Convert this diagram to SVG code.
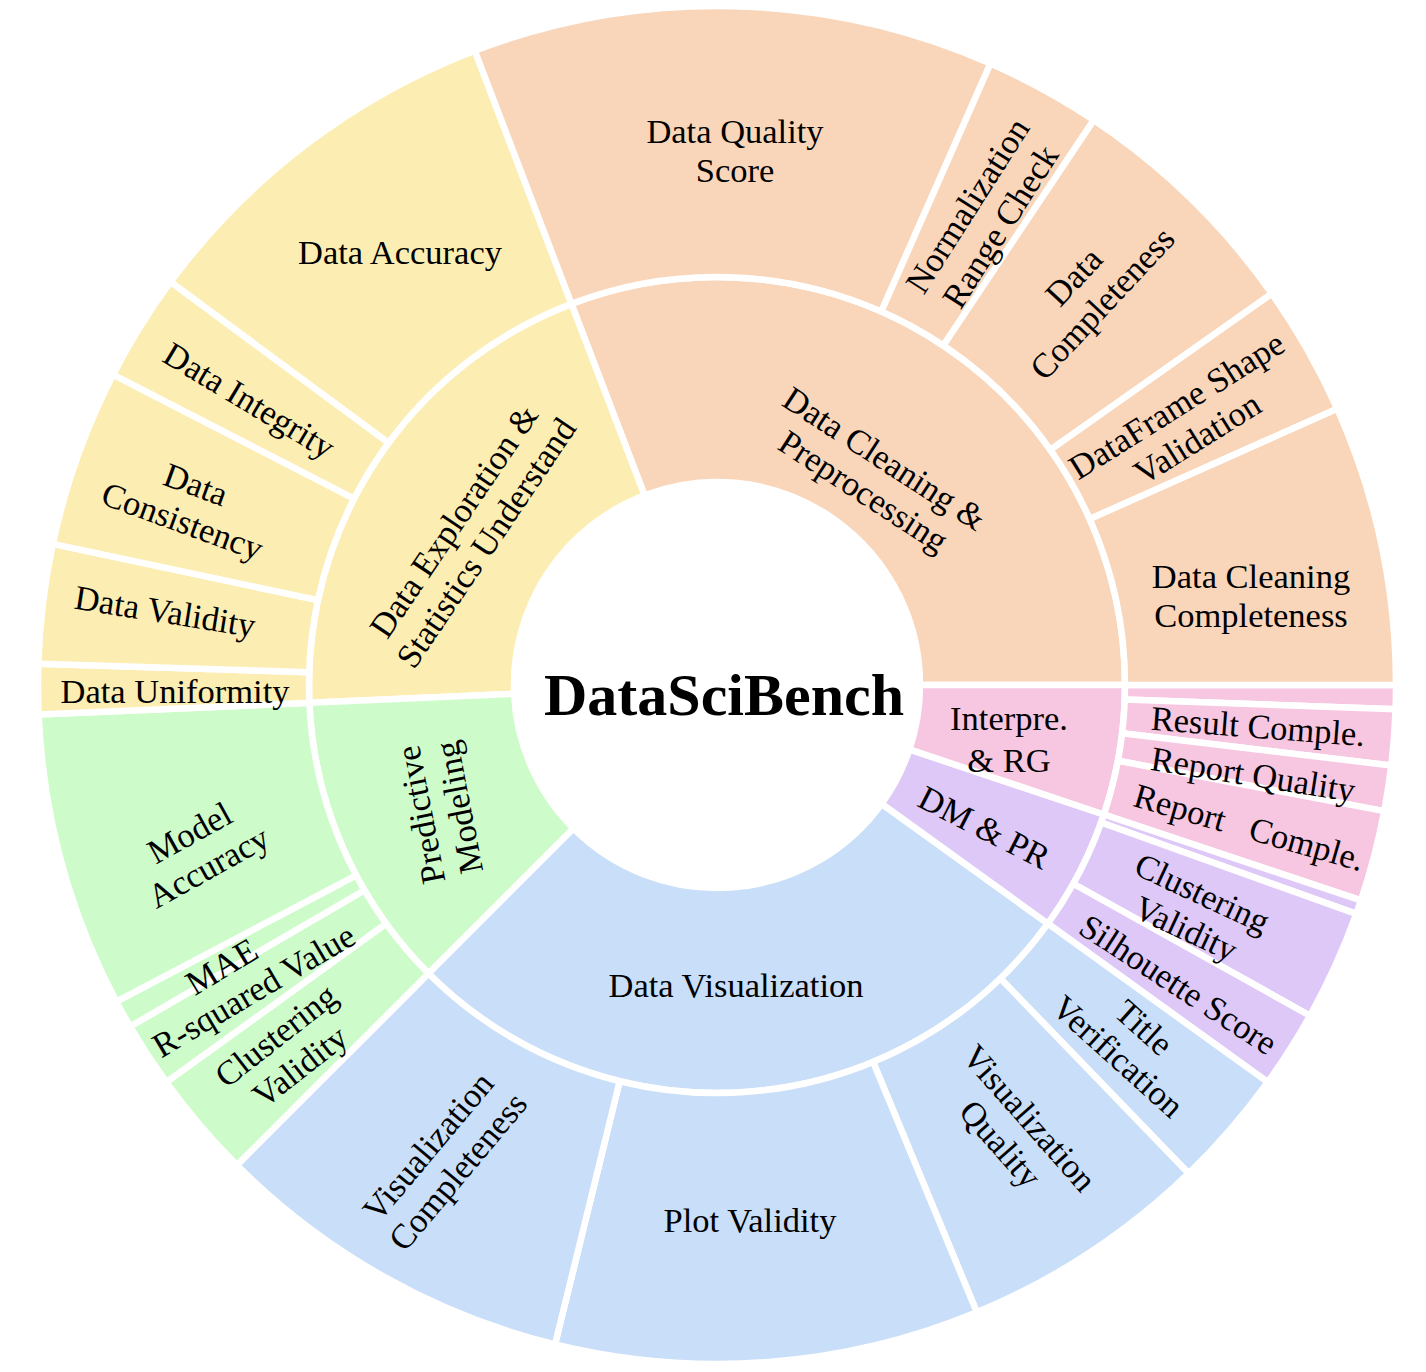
<svg xmlns="http://www.w3.org/2000/svg" width="1426" height="1372" viewBox="0 0 1426 1372">
<style>
.w{stroke:#fff;stroke-width:6.5;stroke-linejoin:round}
.c1{fill:#F9D6BA}.c2{fill:#FCEDB2}.c3{fill:#CEFBCA}.c4{fill:#C9DEF8}.c5{fill:#DDC8F8}.c6{fill:#F7C6E0}
text{font-family:"Liberation Serif","Times New Roman",serif;font-size:34.5px;fill:#000;text-anchor:middle}
.root{font-size:60px;font-weight:bold}
</style>
<rect width="1426" height="1372" fill="#fff"/>
<g id="sectors">
<g id="data-cleaning"><path class="w c1" d="M571.45,303.85 A408,408 0 0 1 1125,685 L920,685 A203,203 0 0 0 644.58,495.36 Z"/></g>
<g id="data-exploration"><path class="w c2" d="M309.39,702.80 A408,408 0 0 1 571.45,303.85 L644.58,495.36 A203,203 0 0 0 514.19,693.85 Z"/></g>
<g id="predictive-modeling"><path class="w c3" d="M428.50,973.50 A408,408 0 0 1 309.39,702.80 L514.19,693.85 A203,203 0 0 0 573.46,828.54 Z"/></g>
<g id="data-visualization"><path class="w c4" d="M1047.91,923.66 A408,408 0 0 1 428.50,973.50 L573.46,828.54 A203,203 0 0 0 881.65,803.75 Z"/></g>
<g id="dm-pr"><path class="w c5" d="M1103.91,814.46 A408,408 0 0 1 1047.91,923.66 L881.65,803.75 A203,203 0 0 0 909.51,749.41 Z"/></g>
<g id="interpre-rg"><path class="w c6" d="M1125,685 A408,408 0 0 1 1103.91,814.46 L909.51,749.41 A203,203 0 0 0 920,685 Z"/></g>
<g id="interpre-extra"><path class="w c6" d="M1396,685 A679,679 0 0 1 1395.57,709.29 L1124.74,699.60 A408,408 0 0 0 1125,685 Z"/></g>
<g id="result-comple"><path class="w c6" d="M1395.57,709.29 A679,679 0 0 1 1391.23,765.40 L1122.13,733.31 A408,408 0 0 0 1124.74,699.60 Z"/></g>
<g id="report-quality"><path class="w c6" d="M1391.23,765.40 A679,679 0 0 1 1384.19,811.07 L1117.90,760.75 A408,408 0 0 0 1122.13,733.31 Z"/></g>
<g id="report-comple"><path class="w c6" d="M1384.19,811.07 A679,679 0 0 1 1360.91,900.45 L1103.91,814.46 A408,408 0 0 0 1117.90,760.75 Z"/></g>
<g id="dm-extra"><path class="w c5" d="M1360.91,900.45 A679,679 0 0 1 1356.26,913.89 L1101.12,822.53 A408,408 0 0 0 1103.91,814.46 Z"/></g>
<g id="clustering-validity-dm"><path class="w c5" d="M1356.26,913.89 A679,679 0 0 1 1310.00,1015.73 L1073.32,883.73 A408,408 0 0 0 1101.12,822.53 Z"/></g>
<g id="silhouette-score"><path class="w c5" d="M1310.00,1015.73 A679,679 0 0 1 1267.71,1082.19 L1047.91,923.66 A408,408 0 0 0 1073.32,883.73 Z"/></g>
<g id="title-verification"><path class="w c4" d="M1267.71,1082.19 A679,679 0 0 1 1188.67,1173.43 L1000.42,978.49 A408,408 0 0 0 1047.91,923.66 Z"/></g>
<g id="visualization-quality"><path class="w c4" d="M1188.67,1173.43 A679,679 0 0 1 976.84,1312.31 L873.13,1061.94 A408,408 0 0 0 1000.42,978.49 Z"/></g>
<g id="plot-validity"><path class="w c4" d="M976.84,1312.31 A679,679 0 0 1 555.04,1344.40 L619.68,1081.22 A408,408 0 0 0 873.13,1061.94 Z"/></g>
<g id="visualization-completeness"><path class="w c4" d="M555.04,1344.40 A679,679 0 0 1 236.87,1165.13 L428.50,973.50 A408,408 0 0 0 619.68,1081.22 Z"/></g>
<g id="clustering-validity-pm"><path class="w c3" d="M236.87,1165.13 A679,679 0 0 1 166.29,1082.19 L386.09,923.66 A408,408 0 0 0 428.50,973.50 Z"/></g>
<g id="r-squared"><path class="w c3" d="M166.29,1082.19 A679,679 0 0 1 130.16,1026.55 L364.38,890.23 A408,408 0 0 0 386.09,923.66 Z"/></g>
<g id="mae"><path class="w c3" d="M130.16,1026.55 A679,679 0 0 1 116.37,1001.67 L356.09,875.28 A408,408 0 0 0 364.38,890.23 Z"/></g>
<g id="model-accuracy"><path class="w c3" d="M116.37,1001.67 A679,679 0 0 1 38.65,714.62 L309.39,702.80 A408,408 0 0 0 356.09,875.28 Z"/></g>
<g id="data-uniformity"><path class="w c2" d="M38.65,714.62 A679,679 0 0 1 38.33,663.67 L309.20,672.18 A408,408 0 0 0 309.39,702.80 Z"/></g>
<g id="data-validity"><path class="w c2" d="M38.33,663.67 A679,679 0 0 1 52.84,543.83 L317.91,600.17 A408,408 0 0 0 309.20,672.18 Z"/></g>
<g id="data-consistency"><path class="w c2" d="M52.84,543.83 A679,679 0 0 1 113.08,374.67 L354.12,498.53 A408,408 0 0 0 317.91,600.17 Z"/></g>
<g id="data-integrity"><path class="w c2" d="M113.08,374.67 A679,679 0 0 1 170.60,281.91 L388.67,442.79 A408,408 0 0 0 354.12,498.53 Z"/></g>
<g id="data-accuracy"><path class="w c2" d="M170.60,281.91 A679,679 0 0 1 474.77,50.68 L571.45,303.85 A408,408 0 0 0 388.67,442.79 Z"/></g>
<g id="data-quality-score"><path class="w c1" d="M474.77,50.68 A679,679 0 0 1 990.47,63.50 L881.32,311.55 A408,408 0 0 0 571.45,303.85 Z"/></g>
<g id="normalization-range-check"><path class="w c1" d="M990.47,63.50 A679,679 0 0 1 1093.74,120.11 L943.37,345.56 A408,408 0 0 0 881.32,311.55 Z"/></g>
<g id="data-completeness"><path class="w c1" d="M1093.74,120.11 A679,679 0 0 1 1271.84,293.60 L1050.39,449.82 A408,408 0 0 0 943.37,345.56 Z"/></g>
<g id="dataframe-shape-validation"><path class="w c1" d="M1271.84,293.60 A679,679 0 0 1 1337.30,408.82 L1089.73,519.05 A408,408 0 0 0 1050.39,449.82 Z"/></g>
<g id="data-cleaning-completeness"><path class="w c1" d="M1337.30,408.82 A679,679 0 0 1 1396,685 L1125,685 A408,408 0 0 0 1089.73,519.05 Z"/></g>
</g>
<g id="labels">
<g id="root"><text class="root" x="724" y="715">DataSciBench</text></g>
<text id="t-data-cleaning" transform="translate(874,475) rotate(33)"><tspan x="0" y="-8">Data Cleaning &amp;</tspan><tspan x="0" y="31">Preprocessing</tspan></text>
<text id="t-data-exploration" transform="translate(470,532) rotate(-56)"><tspan x="0" y="-8">Data Exploration &amp;</tspan><tspan x="0" y="31">Statistics Understand</tspan></text>
<text id="t-predictive-modeling" transform="translate(440,811) rotate(-101)"><tspan x="0" y="-8">Predictive</tspan><tspan x="0" y="31">Modeling</tspan></text>
<text id="t-data-visualization" x="736" y="997">Data Visualization</text>
<text id="t-dm-pr" transform="translate(984,828) rotate(27)" y="11">DM &amp; PR</text>
<text id="t-interpre-rg"><tspan x="1009" y="730">Interpre.</tspan><tspan x="1009" y="772">&amp; RG</tspan></text>
<text id="t-result-comple" transform="translate(1258,727) rotate(4.4)" y="11">Result Comple.</text>
<text id="t-report-quality" transform="translate(1253,775) rotate(9)" y="11">Report Quality</text>
<text id="t-report-comple" transform="translate(1249,828) rotate(16)" y="11" style="white-space:pre">Report   Comple.</text>
<text id="t-clustering-validity-dm" transform="translate(1194,911) rotate(25)"><tspan x="0" y="-8">Clustering</tspan><tspan x="0" y="31">Validity</tspan></text>
<text id="t-silhouette-score" transform="translate(1178,985) rotate(33)" y="11">Silhouette Score</text>
<text id="t-title-verification" transform="translate(1131,1042) rotate(42)"><tspan x="0" y="-8">Title</tspan><tspan x="0" y="31">Verification</tspan></text>
<text id="t-visualization-quality" transform="translate(1015,1131) rotate(48.5)"><tspan x="0" y="-8">Visualization</tspan><tspan x="0" y="31">Quality</tspan></text>
<text id="t-plot-validity" x="750" y="1232">Plot Validity</text>
<text id="t-visualization-completeness" transform="translate(443,1159) rotate(-50)"><tspan x="0" y="-8">Visualization</tspan><tspan x="0" y="31">Completeness</tspan></text>
<text id="t-clustering-validity-pm" transform="translate(288,1051) rotate(-38)"><tspan x="0" y="-8">Clustering</tspan><tspan x="0" y="31">Validity</tspan></text>
<text id="t-r-squared" transform="translate(254,991) rotate(-30.6)" y="11">R-squared Value</text>
<text id="t-mae" transform="translate(222,967) rotate(-31)" y="11">MAE</text>
<text id="t-model-accuracy" transform="translate(199,850) rotate(-29)"><tspan x="0" y="-8">Model</tspan><tspan x="0" y="31">Accuracy</tspan></text>
<text id="t-data-uniformity" x="175" y="703">Data Uniformity</text>
<text id="t-data-validity" transform="translate(165,612) rotate(9)" y="11">Data Validity</text>
<text id="t-data-consistency" transform="translate(189,503) rotate(20)"><tspan x="0" y="-8">Data</tspan><tspan x="0" y="31">Consistency</tspan></text>
<text id="t-data-integrity" transform="translate(249,401) rotate(31)" y="11">Data Integrity</text>
<text id="t-data-accuracy" x="400" y="264">Data Accuracy</text>
<text id="t-data-quality-score"><tspan x="735" y="143">Data Quality</tspan><tspan x="735" y="182">Score</tspan></text>
<text id="t-normalization-range-check" transform="translate(984,216) rotate(-57.5)"><tspan x="0" y="-8">Normalization</tspan><tspan x="0" y="31">Range Check</tspan></text>
<text id="t-data-completeness" transform="translate(1088,290) rotate(-47)"><tspan x="0" y="-8">Data</tspan><tspan x="0" y="31">Completeness</tspan></text>
<text id="t-dataframe-shape-validation" transform="translate(1187,422) rotate(-32)"><tspan x="0" y="-8">DataFrame Shape</tspan><tspan x="0" y="31">Validation</tspan></text>
<text id="t-data-cleaning-completeness"><tspan x="1251" y="588">Data Cleaning</tspan><tspan x="1251" y="627">Completeness</tspan></text>
</g>
<g id="connectors"/>
</svg>
